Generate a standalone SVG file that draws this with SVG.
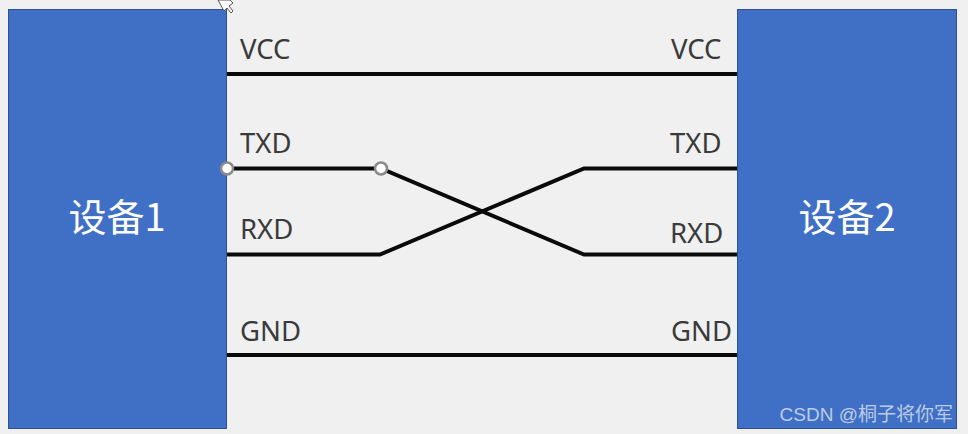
<svg xmlns="http://www.w3.org/2000/svg" width="968" height="434" viewBox="0 0 968 434">
<style>
.dev{fill:#4070c6;stroke:#2f528f;stroke-width:1}
.w{fill:none;stroke:#0a0a0a;stroke-width:4}
.lb{font:27.500px "Noto Sans","Liberation Sans",sans-serif;fill:#3a3a3a}
.dl{font:38px "Noto Sans CJK SC","Noto Sans",sans-serif;fill:#fff}
.h{fill:#fff;stroke:#8a8a8a;stroke-width:2.500}
</style>
<rect width="968" height="434" fill="#f0f0f0"/>
<g id="device1"><rect class="dev" x="8.500" y="9.500" width="218" height="419"/><text class="dl" x="117" y="231" text-anchor="middle">设备1</text></g>
<g id="device2"><rect class="dev" x="737.500" y="9.500" width="219" height="419"/><text class="dl" x="847" y="231" text-anchor="middle">设备2</text></g>
<g id="connectors">
<path class="w" d="M227 74H737"/>
<path class="w" d="M227 168.500H381L584 254.500H737"/>
<path class="w" d="M227 254.500H380L584 168.500H737"/>
<path class="w" d="M227 355H737"/>
</g>
<g id="labels">
<text class="lb" x="240" y="59">VCC</text><text class="lb" x="240" y="153">TXD</text><text class="lb" x="240" y="239">RXD</text><text class="lb" x="240" y="341">GND</text>
<text class="lb" x="671" y="59">VCC</text><text class="lb" x="670" y="153">TXD</text><text class="lb" x="670" y="243">RXD</text><text class="lb" x="671" y="341">GND</text>
</g>
<g id="handles"><circle class="h" cx="227" cy="168.500" r="6"/><circle class="h" cx="381" cy="168.500" r="6"/></g>
<path id="cursor" d="M218 0L224 11L227 8L231 13L233 11L229 6L233 3L230 0Z" fill="#fff" stroke="#555"/>
<text x="953" y="421" text-anchor="end" font-family="Liberation Sans,Noto Sans CJK SC,sans-serif" font-size="19" fill="#bccbe4">CSDN @桐子将你军</text>
</svg>
